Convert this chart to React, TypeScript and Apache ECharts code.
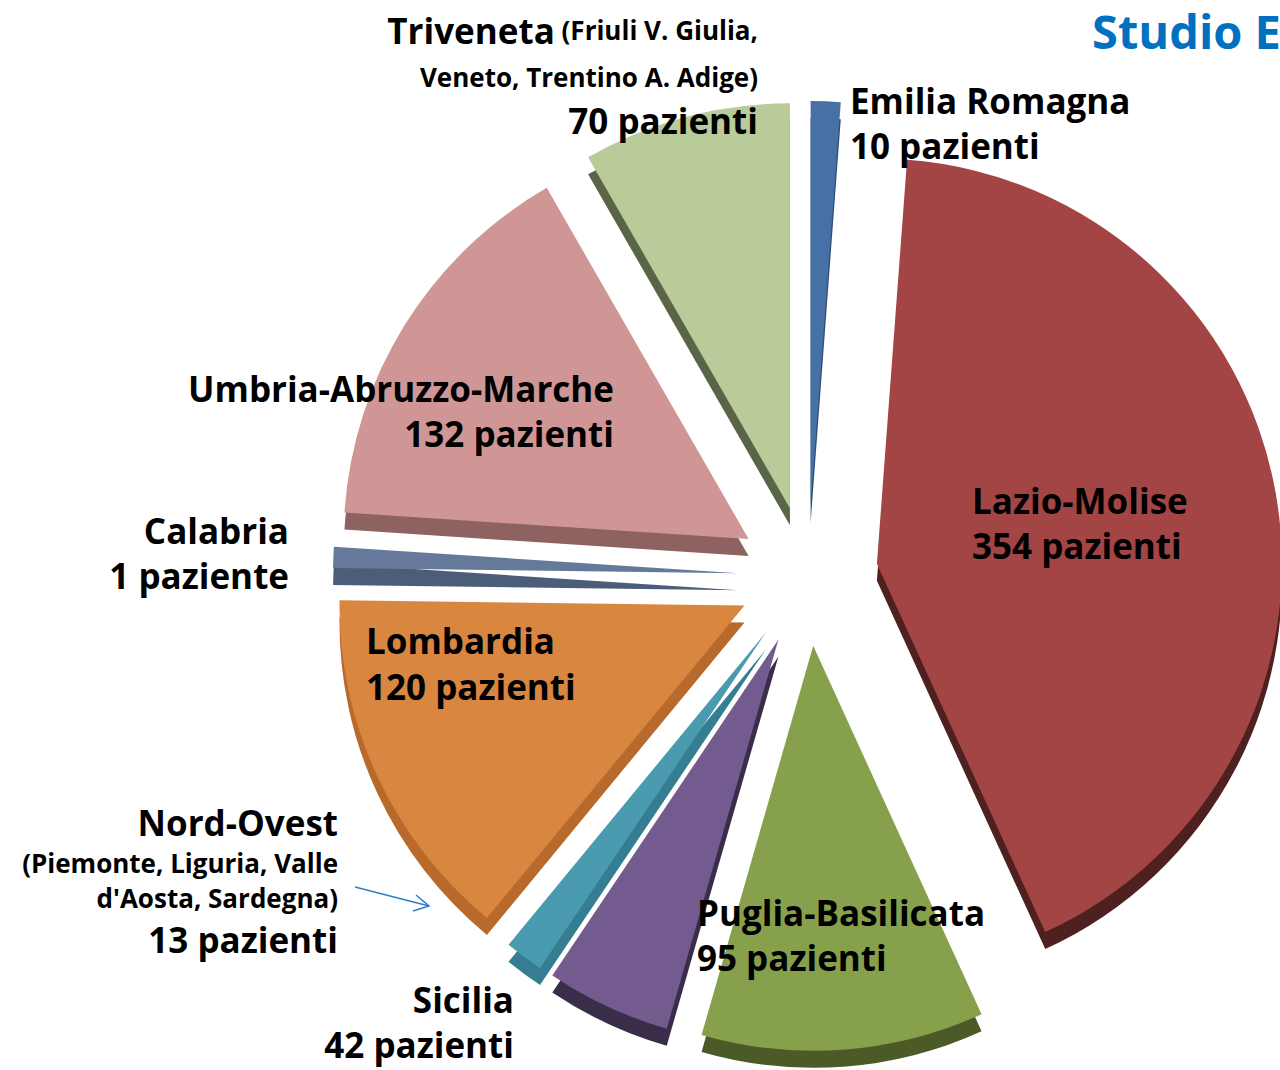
import React, { useEffect, useRef } from "react";
import * as echarts from "echarts";

// ---- data ----
const categories = [
  "Emilia Romagna",
  "Lazio-Molise",
  "Puglia-Basilicata",
  "Sicilia",
  "Nord-Ovest",
  "Lombardia",
  "Calabria",
  "Umbria-Abruzzo-Marche",
  "Triveneta",
];
const values = [10, 354, 95, 42, 13, 120, 1, 132, 70];
const subtitles: Record<string, string[]> = {
  Triveneta: ["(Friuli V. Giulia,", "Veneto, Trentino A. Adige)"],
  "Nord-Ovest": ["(Piemonte, Liguria, Valle", "d'Aosta, Sardegna)"],
};
const titleText = "Studio E";

// ---- styles ----
const topColors = ["#4670a6", "#a34544", "#86a04c", "#735a8f", "#4a9bb0", "#d98641", "#65799b", "#cf9695", "#b8cb99"];
const sideColors = ["#2f4d75", "#4e2020", "#4b5a26", "#3a2d4a", "#357d90", "#b86a2c", "#4c5d7a", "#8d6261", "#5a6547"];

// label layout: x, align, line centre ys
const layout: Record<string, { x: number; align: string; ys: number[] }> = {
  "Emilia Romagna": { x: 850, align: "left", ys: [100, 145] },
  "Lazio-Molise": { x: 972, align: "left", ys: [500, 545] },
  "Puglia-Basilicata": { x: 697, align: "left", ys: [912, 957] },
  Sicilia: { x: 514, align: "right", ys: [999, 1044] },
  "Nord-Ovest": { x: 338, align: "right", ys: [822, 863, 898, 939] },
  Lombardia: { x: 366, align: "left", ys: [640, 686] },
  Calabria: { x: 289, align: "right", ys: [530, 575] },
  "Umbria-Abruzzo-Marche": { x: 614, align: "right", ys: [388, 433] },
  Triveneta: { x: 758, align: "right", ys: [30, 77, 120] },
};

const FONT = "'Open Sans', sans-serif";
const BIG = 35;
const SMALL = 26;

function buildLabels(): any[] {
  const els: any[] = [];
  categories.forEach((name, i) => {
    const L = layout[name];
    const v = values[i];
    const countText = `${v} ${v === 1 ? "paziente" : "pazienti"}`;
    const subs = subtitles[name] || [];
    const lines: { text?: string; rich?: boolean; size: number }[] = [];
    if (name === "Triveneta") {
      lines.push({ text: `{b|${name}}{s| ${subs[0]}}`, rich: true, size: BIG });
      lines.push({ text: subs[1], size: SMALL });
    } else {
      lines.push({ text: name, size: BIG });
      subs.forEach((s) => lines.push({ text: s, size: SMALL }));
    }
    lines.push({ text: countText, size: BIG });
    lines.forEach((ln, k) => {
      const style: any = {
        text: ln.text,
        x: L.x,
        y: L.ys[k],
        align: L.align,
        verticalAlign: "middle",
        fill: "#000",
        fontFamily: FONT,
        fontWeight: "bold",
        fontSize: ln.size,
        lineHeight: ln.size,
      };
      if (ln.rich) {
        style.rich = {
          b: { fontFamily: FONT, fontWeight: "bold", fontSize: BIG, fill: "#000" },
          s: { fontFamily: FONT, fontWeight: "bold", fontSize: SMALL, fill: "#000" },
        };
      }
      els.push({ type: "text", z: 10, style });
    });
  });
  return els;
}

export default function App() {
  const ref = useRef<HTMLDivElement>(null);
  useEffect(() => {
    if (!ref.current) return;
    const chart = echarts.init(ref.current, null, { renderer: "svg" });
    const center = [808, 576];
    const radius = 405;
    const mk = (colors: string[]) =>
      categories.map((c, i) => ({
        name: c,
        value: values[i],
        selected: true,
        itemStyle: { color: colors[i] },
      }));
    const base = {
      type: "pie",
      radius: [0, radius],
      startAngle: 90,
      clockwise: true,
      minAngle: 3,
      selectedMode: "multiple",
      selectedOffset: 70,
      label: { show: false },
      labelLine: { show: false },
      emphasis: { disabled: true },
      silent: true,
      animation: false,
    };
    chart.setOption({
      animation: false,
      backgroundColor: "#ffffff",
      series: [
        { ...base, name: "side", center: [center[0], center[1] + 17], data: mk(sideColors), z: 1 },
        { ...base, name: "top", center, data: mk(topColors), z: 2 },
      ],
      graphic: [
        ...buildLabels(),
        {
          type: "text",
          z: 10,
          style: {
            text: titleText,
            x: 1092,
            y: 31,
            align: "left",
            verticalAlign: "middle",
            fill: "#0070c0",
            fontFamily: FONT,
            fontWeight: "bold",
            fontSize: 47,
          },
        },
        {
          type: "line",
          z: 10,
          shape: { x1: 355, y1: 887, x2: 429, y2: 906 },
          style: { stroke: "#2a7fc9", lineWidth: 1.5 },
        },
        {
          type: "polyline",
          z: 10,
          shape: { points: [[416, 895], [429, 906], [413, 911]] },
          style: { stroke: "#2a7fc9", lineWidth: 1.5, fill: null },
        },
      ],
    });
    return () => chart.dispose();
  }, []);
  return (
    <div
      ref={ref}
      style={{ position: "absolute", left: 0, top: 0, width: 1280, height: 1070 }}
    />
  );
}
